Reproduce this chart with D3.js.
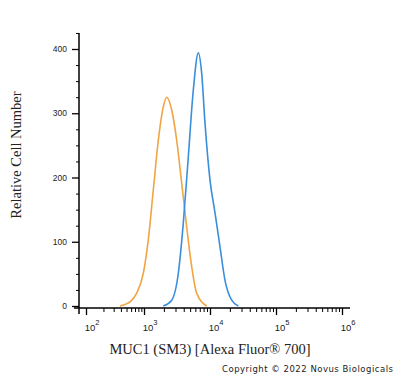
<!DOCTYPE html>
<html><head><meta charset="utf-8">
<script src="https://cdn.jsdelivr.net/npm/d3@7"></script>
<style>body{margin:0;background:#fff}svg{display:block}</style>
</head><body>
<svg id="c" width="400" height="378"></svg>
<script>
// Data (fluorescence intensity, relative cell count)
const isotypeX = [385, 600, 748, 973, 1161, 1384, 1648, 1959, 2208, 2630, 3128, 3726, 4434, 5284, 6281, 8919];
const isotypeY = [0, 8, 20, 51, 103, 181, 258, 310, 325, 305, 258, 191, 123, 61, 20, 0];
const muc1X = [1959, 2630, 3311, 3939, 4690, 5585, 6651, 7483, 8395, 10000, 11910, 14180, 16870, 21320, 26830];
const muc1Y = [0, 9, 51, 129, 232, 336, 394, 362, 285, 196, 145, 92, 40, 9, 0];
const yTicks = [0, 100, 200, 300, 400];
const xMajor = [1e2, 1e3, 1e4, 1e5, 1e6];
const xTickLabels = ["2", "3", "4", "5", "6"];

const svg = d3.select("#c");
const x = d3.scaleLog().domain([100, 1000, 1e6, 1.3e6]).range([86, 144, 342, 350]);
const y = d3.scaleLinear().domain([0, 400]).range([306, 49]);

// minor ticks
const xMinor = [];
for (let k = 2; k <= 5; k++) for (let m = 2; m <= 9; m++) xMinor.push(m * Math.pow(10, k));
const yMinor = d3.range(0, 426, 25).filter(v => v % 100 !== 0);

const axisG = svg.append("g").attr("stroke", "#000");
axisG.append("line").attr("x1", 74).attr("x2", 350).attr("y1", 308).attr("y2", 308).attr("stroke-width", 1.5);
axisG.append("line").attr("x1", 79).attr("x2", 79).attr("y1", y(425)).attr("y2", 314).attr("stroke-width", 1.5);

// x axis ticks
const xa = svg.append("g").attr("transform", "translate(0,308)")
  .call(d3.axisBottom(x).tickValues(xMajor).tickSize(7).tickFormat(""));
xa.select(".domain").remove();
xa.selectAll(".tick line").attr("stroke-width", 1.3);
const xm = svg.append("g").attr("transform", "translate(0,308)")
  .call(d3.axisBottom(x).tickValues(xMinor).tickSize(4).tickFormat(""));
xm.select(".domain").remove();

// x tick labels
const xl = svg.append("g").attr("font-family", "Liberation Sans, Arial, sans-serif").attr("fill", "#222");
xMajor.forEach((v, i) => {
  const t = xl.append("text").attr("x", x(v) + 6).attr("y", 331).attr("text-anchor", "middle").attr("font-size", 9.5);
  t.append("tspan").text("10");
  t.append("tspan").attr("dy", -6).attr("font-size", 7.5).text(xTickLabels[i]);
});

// y axis ticks
const ya = svg.append("g").attr("transform", "translate(79,0)")
  .call(d3.axisLeft(y).tickValues(yTicks).tickSize(7).tickPadding(5));
ya.select(".domain").remove();
ya.selectAll(".tick text").attr("font-family", "Liberation Sans, Arial, sans-serif").attr("font-size", 8.5).attr("fill", "#222");
ya.selectAll(".tick line").attr("stroke-width", 1.3);
const ym = svg.append("g").attr("transform", "translate(79,0)")
  .call(d3.axisLeft(y).tickValues(yMinor).tickSize(3).tickFormat(""));
ym.select(".domain").remove();

// curves
const line = d3.line().x(d => x(d[0])).y(d => y(d[1])).curve(d3.curveMonotoneX);
svg.append("path").datum(d3.zip(isotypeX, isotypeY)).attr("d", line)
  .attr("fill", "none").attr("stroke", "#f0a443").attr("stroke-width", 1.6);
svg.append("path").datum(d3.zip(muc1X, muc1Y)).attr("d", line)
  .attr("fill", "none").attr("stroke", "#3a8fdc").attr("stroke-width", 1.6);

// titles
svg.append("text").attr("transform", "translate(21,155) rotate(-90)").attr("text-anchor", "middle")
  .attr("font-family", "Liberation Serif, Times New Roman, serif").attr("font-size", 14.5).attr("fill", "#222")
  .text("Relative Cell Number");
svg.append("text").attr("x", 210).attr("y", 354).attr("text-anchor", "middle")
  .attr("font-family", "Liberation Serif, Times New Roman, serif").attr("font-size", 14.5).attr("fill", "#222")
  .text("MUC1 (SM3) [Alexa Fluor\u00AE 700]");
svg.append("text").attr("x", 222).attr("y", 372).attr("textLength", 171).attr("lengthAdjust", "spacing")
  .attr("font-family", "DejaVu Sans, sans-serif").attr("font-size", 8.5).attr("fill", "#222")
  .text("Copyright \u00A9 2022 Novus Biologicals");
</script>
</body></html>
